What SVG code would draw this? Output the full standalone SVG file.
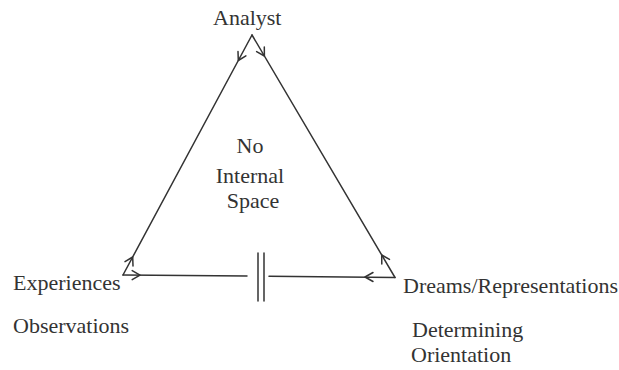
<svg xmlns="http://www.w3.org/2000/svg" width="619" height="370" viewBox="0 0 619 370">
  <style>
    .lbl { font-family: "Liberation Serif", "Times New Roman", serif; font-size: 22px; fill: #333; }
    .mid { text-anchor: middle; }
    .edge { fill: none; stroke: #333; stroke-width: 1.5; stroke-linecap: round; stroke-linejoin: round; }
  </style>
  <rect width="619" height="370" fill="#fff"/>

  <!-- triangle sides, the broken base and the outward-pointing heads -->
  <g id="connectors">
    <path class="edge" d="M252,35 L123,275"/>
    <path class="edge" d="M252,35 L395,277.5"/>
    <path class="edge" d="M123,275 L247,276"/>
    <path class="edge" d="M269,276.3 L395,277.5"/>
    <!-- break in the base -->
    <path class="edge" d="M258,253 L258,301 M264,253 L264,301"/>
    <!-- heads on the left side -->
    <path class="edge" d="M245.9,55.8 L238.3,60.5 L238,51.5"/>
    <path class="edge" d="M125,261.7 L132.7,257 L133,266"/>
    <!-- heads on the right side -->
    <path class="edge" d="M264.3,47 L264.4,56 L256.6,51.6"/>
    <path class="edge" d="M381.8,264 L381.7,255 L389.5,259.4"/>
    <!-- heads on the base -->
    <path class="edge" d="M132.2,270.6 L140,275.1 L132.2,279.6"/>
    <path class="edge" d="M373,272.5 L365,277 L373,281.5"/>
  </g>

  <g id="node-analyst">
    <text class="lbl" x="213" y="25">Analyst</text>
  </g>

  <g id="node-experiences">
    <text class="lbl" x="13" y="290">Experiences</text>
    <text class="lbl" x="13" y="333">Observations</text>
  </g>

  <g id="node-dreams">
    <text class="lbl" x="403" y="293">Dreams/Representations</text>
    <text class="lbl" x="412" y="337">Determining</text>
    <text class="lbl" x="411" y="362">Orientation</text>
  </g>

  <g id="node-center">
    <text class="lbl mid" x="250" y="153">No</text>
    <text class="lbl mid" x="250" y="183">Internal</text>
    <text class="lbl mid" x="253" y="208">Space</text>
  </g>
</svg>
